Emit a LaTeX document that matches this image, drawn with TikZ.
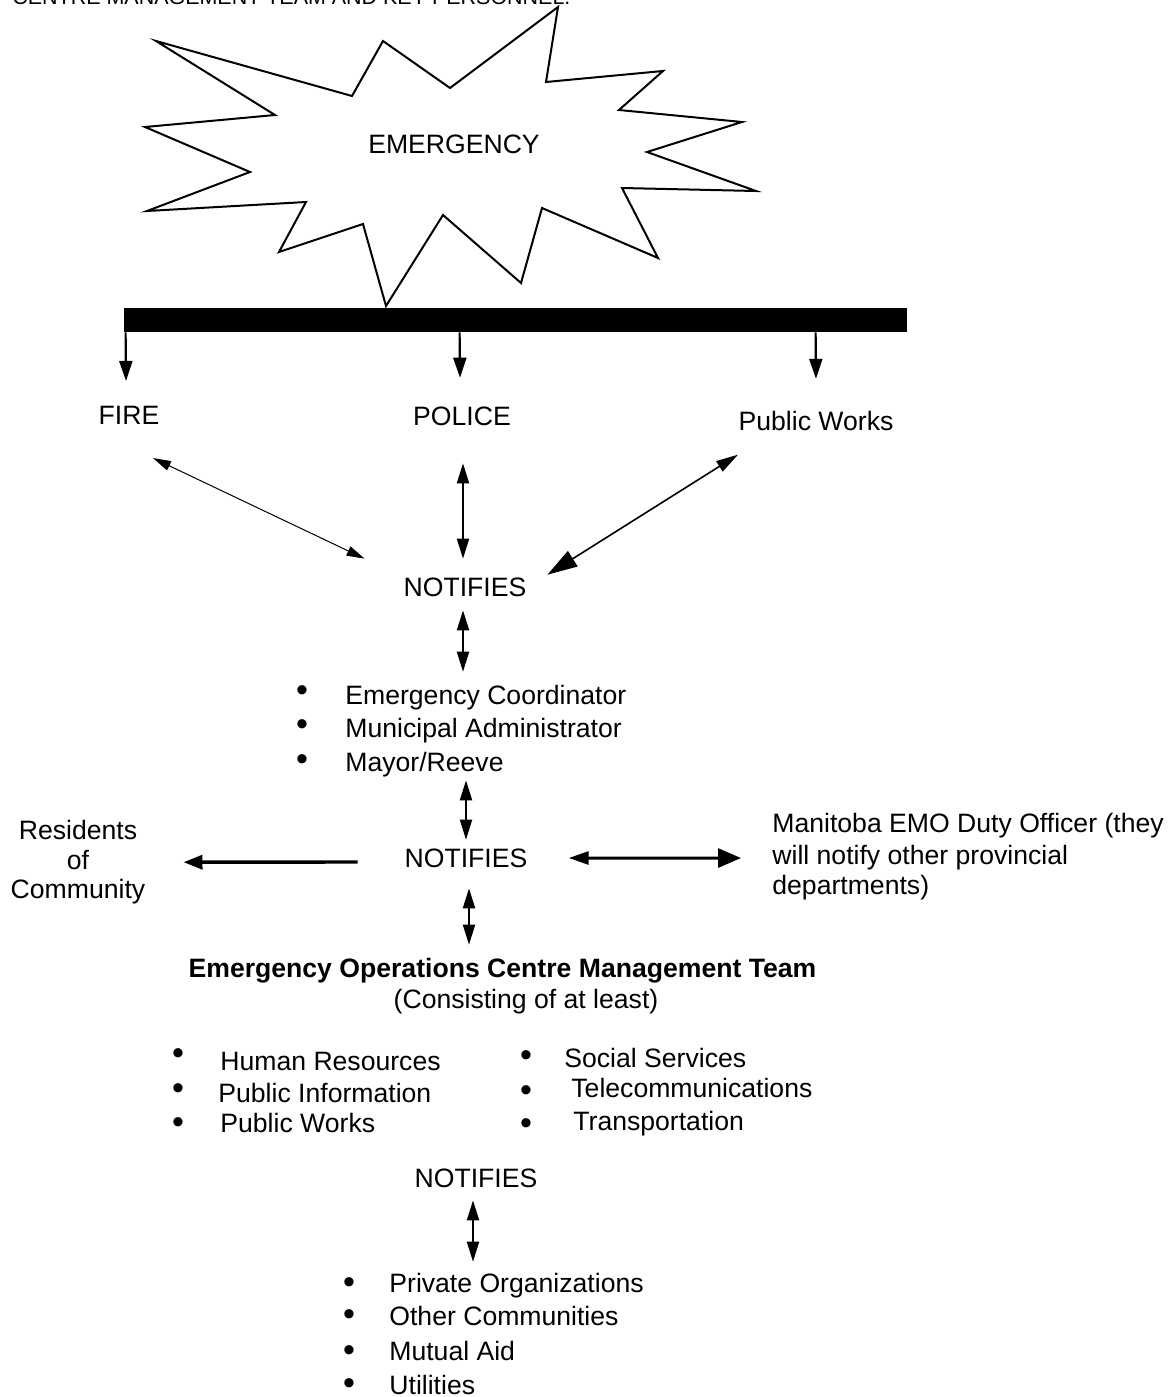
\documentclass[tikz,border=0pt]{standalone}
\usepackage{fontspec}
\setmainfont{Liberation Sans}
\usetikzlibrary{arrows.meta,calc}
\begin{document}
\begin{tikzpicture}[x=0.5pt,y=-0.5pt,
  txt/.style={inner sep=0pt,font=\fontsize{13.3}{16}\selectfont},
  boldtxt/.style={inner sep=0pt,font=\fontsize{13.3}{16}\selectfont\bfseries},
  bul/.style={inner sep=0pt,font=\fontsize{17}{17}\selectfont,yshift=-1.9pt},
  itemtxt/.style={txt,anchor=base west},
  downarr/.style={line width=1.1pt,-{Triangle[length=10pt,width=6.5pt]}},
  thinarr/.style={line width=0.5pt,{Triangle[length=9pt,width=5pt]}-{Triangle[length=9pt,width=5pt]}},
  dblarr/.style={line width=1pt,{Triangle[length=10pt,width=6pt]}-{Triangle[length=10pt,width=6pt]}},
  pwarr/.style={line width=0.8pt,{Triangle[length=11pt,width=6pt]}-{Triangle[length=15pt,width=9pt]}},
  resarr/.style={line width=1.7pt,-{Triangle[length=9.5pt,width=7pt]}},
  mbarr/.style={line width=1.5pt,{Triangle[length=10pt,width=6.5pt]}-{Triangle[length=11.5pt,width=9.5pt]}}
]
\useasboundingbox (0,0) rectangle (1169,1397);
\clip (0,0) rectangle (1169,1397);

% partially visible heading
\node[itemtxt,font=\fontsize{10.73}{12}\selectfont] (title) at (12,4) {CENTRE MANAGEMENT TEAM AND KEY PERSONNEL.};

% emergency burst
\draw[line width=1pt,line join=miter] (156,41) -- (352,96) -- (383,41) -- (450,88) -- (558,7) -- (546,82)
  -- (663,71) -- (619,110) -- (742,122) -- (647,152) -- (756,191) -- (622,188) -- (658,258)
  -- (542,208) -- (521,283) -- (443,215) -- (386,306) -- (363,224) -- (279,252) -- (306,202)
  -- (147,211) -- (250,172) -- (145,127) -- (275,115) -- cycle;
\node[txt] (emerg) at (454,144.5) {EMERGENCY};

% bar
\node[fill=black,inner sep=0pt,minimum width=391.5pt,minimum height=12pt] (bar) at (515.5,320) {};

% first responders
\node[txt] (fire) at (129,415) {FIRE};
\node[txt] (police) at (462,416.5) {POLICE};
\node[txt,anchor=base] (pw) at (816,430.5) {Public Works};
\node[txt] (n1) at (465,587) {NOTIFIES};

\draw[downarr] ($(bar.south west)+(2,0)$) -- ($(fire.north)+(-3,-24.5)$);
\draw[downarr] ($(bar.south west)+(336,0)$) -- ($(police.north)+(-2,-29)$);
\draw[downarr] ($(bar.south west)+(692,0)$) -- ($(pw.north)+(0,-32)$);

\draw[thinarr] ($(fire.south)+(24,33.5)$) -- ($(n1.north west)+(-38.7,-18.5)$);
\draw[dblarr] ($(police.south)+(1,37)$) -- ($(n1.north)+(-2,-18.5)$);
\draw[pwarr] ($(pw.south)+(-78,23.5)$) -- ($(n1.north east)+(20.7,-2.5)$);

% key officials
\node[bul] (b1) at (302,690) {\textbullet};
\node[bul] (b2) at (302,724) {\textbullet};
\node[bul] (b3) at (302,759) {\textbullet};
\node[itemtxt] (ec) at (345,704) {Emergency Coordinator};
\node[itemtxt] (ma) at (345,737) {Municipal Administrator};
\node[itemtxt] (my) at (345,771) {Mayor/Reeve};

\draw[dblarr] ($(n1.south)+(-2,13.5)$) -- ($(ec.north west)+(118,-12.6)$);

\node[txt] (n2) at (466,858) {NOTIFIES};
\draw[dblarr] ($(my.south west)+(121,3.4)$) -- ($(n2.north)+(0,-8.5)$);

% residents
\node[txt,anchor=base] (res1) at (78,839) {Residents};
\node[txt,anchor=base] (res2) at (78,869) {of};
\node[txt,anchor=base] (res3) at (78,898) {Community};
\draw[resarr] ($(n2.west)+(-46.6,4)$) -- ($(res2.east)+(94,2.7)$);

% Manitoba EMO
\node[itemtxt] (mb1) at (772,832) {Manitoba EMO Duty Officer (they};
\node[itemtxt] (mb2) at (772,864) {will notify other provincial};
\node[itemtxt] (mb3) at (772,894) {departments)};
\draw[mbarr] ($(n2.east)+(41,0)$) -- ($(mb2.west)+(-31,0.9)$);

% EOC team
\node[boldtxt,anchor=base] (eoc) at (502.5,977) {Emergency Operations Centre Management Team};
\node[txt,anchor=base] (cons) at (526,1008) {(Consisting of at least)};
\draw[dblarr] ($(n2.south)+(3,20.5)$) -- ($(eoc.north)+(-33.5,-12.6)$);

\node[bul] (lb1) at (178,1053) {\textbullet};
\node[bul] (lb2) at (178,1088) {\textbullet};
\node[bul] (lb3) at (178,1122) {\textbullet};
\node[itemtxt] (hr) at (220,1070) {Human Resources};
\node[itemtxt] (pi) at (218,1102) {Public Information};
\node[itemtxt] (pwk) at (220,1132) {Public Works};

\node[bul] (rb1) at (526,1055) {\textbullet};
\node[bul] (rb2) at (526,1090) {\textbullet};
\node[bul] (rb3) at (526,1123) {\textbullet};
\node[itemtxt] (ss) at (564,1067) {Social Services};
\node[itemtxt] (tc) at (571,1097) {Telecommunications};
\node[itemtxt] (tr) at (573,1130) {Transportation};

% external
\node[txt] (n3) at (476,1178) {NOTIFIES};
\node[bul] (eb1) at (349,1282) {\textbullet};
\node[bul] (eb2) at (349,1314) {\textbullet};
\node[bul] (eb3) at (349,1350) {\textbullet};
\node[bul] (eb4) at (349,1383) {\textbullet};
\node[itemtxt] (po) at (389,1292) {Private Organizations};
\node[itemtxt] (oc) at (389,1325) {Other Communities};
\node[itemtxt] (mu) at (389,1360) {Mutual Aid};
\node[itemtxt] (ut) at (389,1394) {Utilities};
\draw[dblarr] ($(n3.south)+(-3,12.5)$) -- ($(po.north west)+(84,-10.6)$);
\end{tikzpicture}
\end{document}
